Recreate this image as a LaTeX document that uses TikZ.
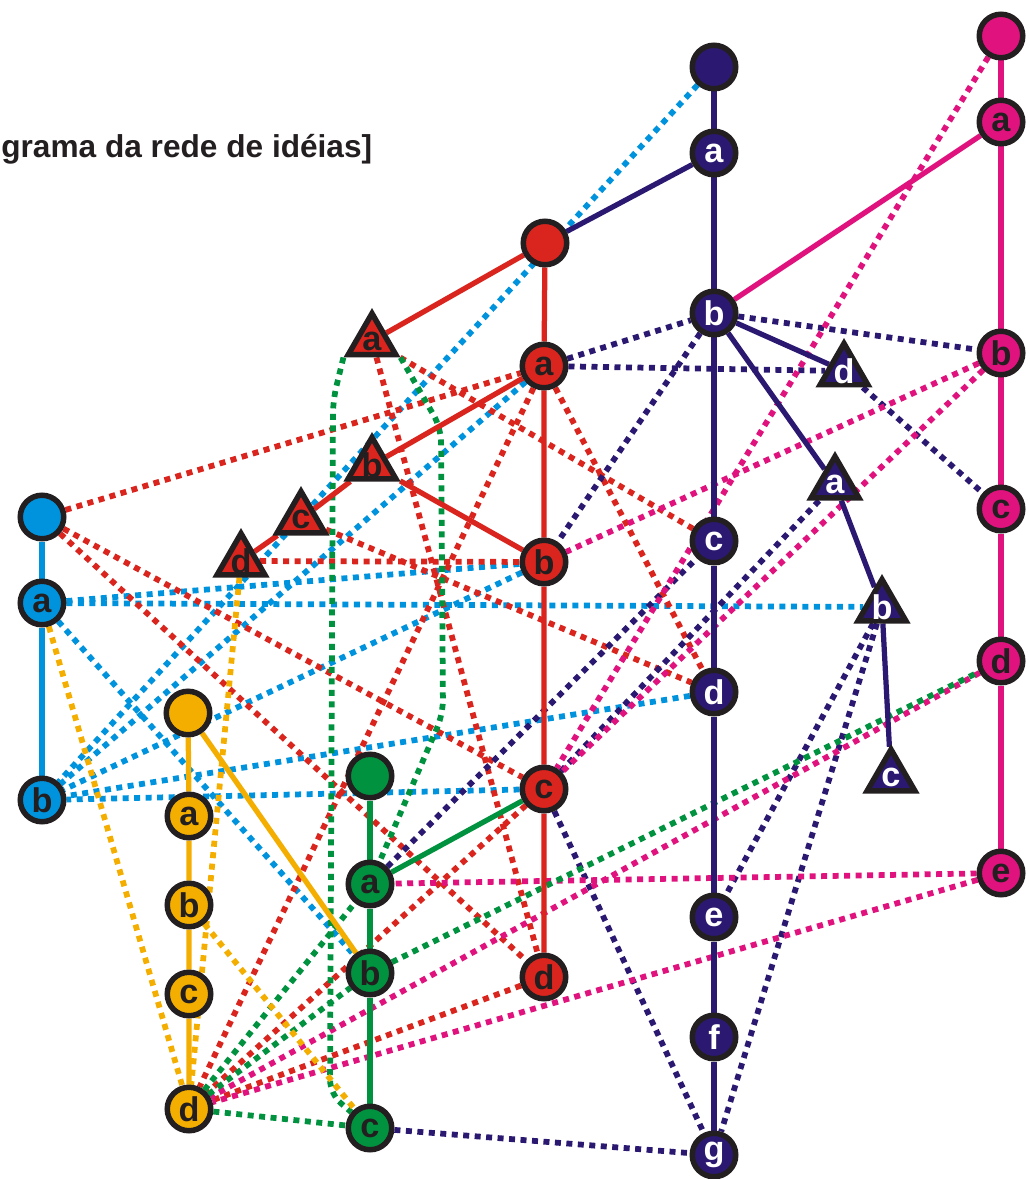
\documentclass[tikz,border=0pt]{standalone}
\usepackage{fontspec}
\setmainfont{Liberation Sans}
\usetikzlibrary{shapes.geometric}
\definecolor{cN}{RGB}{43,24,112}
\definecolor{cM}{RGB}{224,19,126}
\definecolor{cR}{RGB}{217,37,29}
\definecolor{cB}{RGB}{0,147,221}
\definecolor{cO}{RGB}{243,174,0}
\definecolor{cG}{RGB}{0,146,63}
\definecolor{cK}{RGB}{35,31,32}
\newcommand\lblfont{\fontsize{19.5}{19.5}\selectfont\bfseries}
\newcommand\ttlfont{\fontsize{18}{20}\selectfont\bfseries}
\pgfdeclarelayer{dots}
\pgfdeclarelayer{solids}
\pgfsetlayers{dots,solids,main}
\tikzset{
  cnode/.style={circle, draw=cK, line width=0.11cm, minimum size=0.87cm, inner sep=0pt, font=\lblfont},
  tnode/.style={regular polygon, regular polygon sides=3, draw=cK, line width=0.11cm, minimum size=1.1cm, inner sep=0pt},
  nc/.style={cnode, fill=cN, text=white},
  mc/.style={cnode, fill=cM, text=cK},
  rc/.style={cnode, fill=cR, text=cK},
  bc/.style={cnode, fill=cB, text=cK},
  oc/.style={cnode, fill=cO, text=cK},
  gc/.style={cnode, fill=cG, text=cK},
  nt/.style={tnode, fill=cN},
  rt/.style={tnode, fill=cR},
  wlab/.style={font=\lblfont, text=white, inner sep=0pt},
  klab/.style={font=\lblfont, text=cK, inner sep=0pt},
  sol/.style={line width=0.105cm},
  dotline/.style={line width=0.115cm, dash pattern=on 0.12cm off 0.11cm},
  sN/.style={sol, draw=cN}, sM/.style={sol, draw=cM}, sR/.style={sol, draw=cR},
  sB/.style={sol, draw=cB}, sO/.style={sol, draw=cO}, sG/.style={sol, draw=cG},
  dN/.style={dotline, draw=cN}, dM/.style={dotline, draw=cM}, dR/.style={dotline, draw=cR},
  dB/.style={dotline, draw=cB}, dO/.style={dotline, draw=cO}, dG/.style={dotline, draw=cG},
}
\begin{document}
\begin{tikzpicture}[x=0.02cm,y=-0.02cm]
\useasboundingbox (0,0) rectangle (1029,1179);
% title
\node[anchor=base west, inner sep=0pt, font=\ttlfont, text=cK] (title) at (1,158) {grama da rede de idéias]};
% navy
\node[nc] (N0) at (714,67) {};
\node[nc] (Na) at (714,153) {a};
\node[nc] (Nb) at (714,313) {b};
\node[nc] (Nc) at (714,541) {c};
\node[nc] (Nd) at (714,692) {d};
\node[nc] (Ne) at (714,917) {e};
\node[nc] (Nf) at (714,1037) {f};
\node[nc] (Ng) at (714,1155) {g};
\node[nt, label={[wlab]center:d}] (Td) at (844,371) {};
\node[nt, label={[wlab]center:a}] (Ta) at (835,484) {};
\node[nt, label={[wlab]center:b}] (Tb) at (882,607) {};
\node[nt, label={[wlab]center:c}] (Tc) at (891,777) {};
% magenta
\node[mc] (M0) at (1001,36) {};
\node[mc] (Ma) at (1001,122) {a};
\node[mc] (Mb) at (1001,353) {b};
\node[mc] (Mc) at (1001,509) {c};
\node[mc] (Md) at (1001,661) {d};
\node[mc] (Me) at (1001,873) {e};
% red
\node[rc] (R0) at (545,243) {};
\node[rc] (Ra) at (544,366) {a};
\node[rc] (Rb) at (544,562) {b};
\node[rc] (Rc) at (544,789) {c};
\node[rc] (Rd) at (544,977) {d};
\node[rt, label={[klab]center:a}] (RTa) at (372,341) {};
\node[rt, label={[klab]center:b}] (RTb) at (372,465) {};
\node[rt, label={[klab]center:c}] (RTc) at (301,519) {};
\node[rt, label={[klab]center:d}] (RTd) at (241,561) {};
% blue
\node[bc] (B0) at (42,517) {};
\node[bc] (Ba) at (42,603) {a};
\node[bc] (Bb) at (42,800) {b};
% orange
\node[oc] (O0) at (188,713) {};
\node[oc] (Oa) at (189,816) {a};
\node[oc] (Ob) at (189,905) {b};
\node[oc] (Oc) at (189,994) {c};
\node[oc] (Od) at (189,1109) {d};
% green
\node[gc] (G0) at (370,776) {};
\node[gc] (Ga) at (370,884) {a};
\node[gc] (Gb) at (370,973) {b};
\node[gc] (Gc) at (370,1128) {c};

\begin{pgfonlayer}{dots}
% blue dotted
\draw[dB] (N0) -- (Bb);
\draw[dB] (Ra) -- (Bb);
\draw[dB] (Rb) -- (Bb);
\draw[dB] (Nd) -- (Bb);
\draw[dB] (Rc) -- (Bb);
\draw[dB] (Ba) -- (Rb);
\draw[dB] (Ba) -- (Tb);
\draw[dB] (Ba) -- (Gb);
% red dotted
\draw[dR] (B0) -- (Ra);
\draw[dR] (B0) -- (Rc);
\draw[dR] (B0) -- (Rd);
\draw[dR] (RTa) -- (Nc);
\draw[dR] (RTa) -- (Rd);
\draw[dR] (RTd) -- (Rb);
\draw[dR] (RTc) -- (Nd);
\draw[dR] (Ra) -- (Nd);
\draw[dR] (Ra) -- (Od);
\draw[dR] (Rc) -- (Od);
\draw[dR] (Rd) -- (Od);
% navy dotted
\draw[dN] (Ra) -- (Nb);
\draw[dN] (Ra) -- (Td);
\draw[dN] (Nb) -- (Mb);
\draw[dN] (Td) -- (Mc);
\draw[dN] (Nb) -- (Rb);
\draw[dN] (Ga) -- (Nc);
\draw[dN] (Rc) -- (Ta);
\draw[dN] (Rc) -- (Ng);
\draw[dN] (Tb) -- (Ne);
\draw[dN] (Tb) -- (Ng);
\draw[dN] (Gc) -- (Ng);
% magenta dotted
\draw[dM] (M0) -- (Rc);
\draw[dM] (Mb) -- (Rb);
\draw[dM] (Mb) -- (Rc);
\draw[dM] (Md) -- (Od);
\draw[dM] (Me) -- (Ga);
\draw[dM] (Me) -- (Od);
% green dotted
\draw[dG] (Gb) -- (Md);
\draw[dG] (Od) -- (Ga);
\draw[dG] (Od) -- (Gb);
\draw[dG] (Od) -- (Gc);
\draw[dG, rounded corners=8pt] (RTa.corner 2) -- (333,400) -- (330,1094) -- (Gc);
\draw[dG, rounded corners=8pt] (RTa.corner 3) -- (441,428) -- (443,714) -- (Ga);
% orange dotted
\draw[dO] (Ba) -- (Od);
\draw[dO] (RTd) -- (Od);
\draw[dO] (Ob) -- (Gc);
\end{pgfonlayer}

\begin{pgfonlayer}{solids}
\draw[sN] (N0) -- (Na) -- (Nb) -- (Nc) -- (Nd) -- (Ne) -- (Nf) -- (Ng);
\draw[sN] (Na) -- (R0);
\draw[sN] (Nb) -- (Td);
\draw[sN] (Nb) -- (Ta);
\draw[sN] (Ta) -- (Tb);
\draw[sN] (Tb) -- (Tc);
\draw[sM] (M0) -- (Ma) -- (Mb) -- (Mc) -- (Md) -- (Me);
\draw[sM] (Ma) -- (Nb);
\draw[sR] (R0) -- (Ra) -- (Rb) -- (Rc) -- (Rd);
\draw[sR] (R0) -- (RTa);
\draw[sR] (Ra) -- (RTb);
\draw[sR] (RTb) -- (RTc);
\draw[sR] (RTc) -- (RTd);
\draw[sR] (RTb) -- (Rb);
\draw[sB] (B0) -- (Ba) -- (Bb);
\draw[sO] (O0) -- (Oa) -- (Ob) -- (Oc) -- (Od);
\draw[sO] (O0) -- (Gb);
\draw[sG] (G0) -- (Ga) -- (Gb) -- (Gc);
\draw[sG] (Ga) -- (Rc);
\end{pgfonlayer}
\end{tikzpicture}
\end{document}
